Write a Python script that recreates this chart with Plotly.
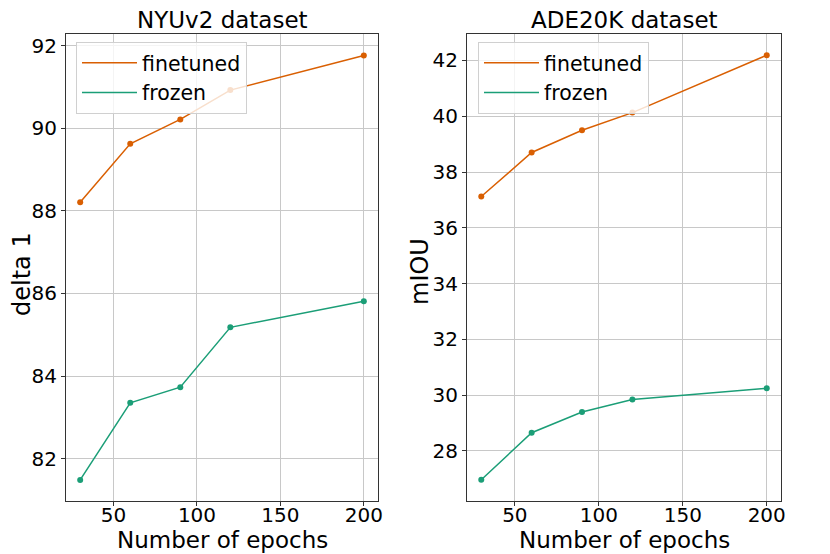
import plotly.graph_objects as go

epochs = [30, 60, 90, 120, 200]

nyu_finetuned = [88.21, 89.63, 90.22, 90.93, 91.77]
nyu_frozen = [81.48, 83.35, 83.73, 85.18, 85.81]

ade_finetuned = [37.12, 38.70, 39.50, 40.13, 42.19]
ade_frozen = [26.96, 28.65, 29.39, 29.84, 30.24]

orange = "#d95f02"
green = "#1b9e77"
font = "DejaVu Sans"

# page puts the plot 8px in from the corner, so lay out in a 822x546 figure
W, H, OFF = 822, 546, 8


def px(x):
    return (x - OFF) / W


def py(y):
    return 1 - (y - OFF) / H


fig = go.Figure()


def add_series(y, name, color, xa, ya, leg):
    # line goes in the legend, markers drawn separately so the legend shows only a line
    fig.add_trace(go.Scatter(x=epochs, y=y, name=name, mode="lines",
                             line=dict(color=color, width=1.5),
                             xaxis=xa, yaxis=ya, legend=leg))
    fig.add_trace(go.Scatter(x=epochs, y=y, name=name, mode="markers",
                             marker=dict(color=color, size=6), showlegend=False,
                             xaxis=xa, yaxis=ya))


add_series(nyu_finetuned, "finetuned", orange, "x", "y", "legend")
add_series(nyu_frozen, "frozen", green, "x", "y", "legend")
add_series(ade_finetuned, "finetuned", orange, "x2", "y2", "legend2")
add_series(ade_frozen, "frozen", green, "x2", "y2", "legend2")

ax = dict(showline=True, mirror=True, linecolor="#333", linewidth=1, automargin=False,
          showgrid=True, gridcolor="#c8c8c8", gridwidth=1, zeroline=False,
          ticks="outside", ticklen=4, tickcolor="#333",
          tickfont=dict(family=font, size=20, color="black"))
xax = dict(ax, range=[21.5, 208.5], tickvals=[50, 100, 150, 200], ticklabelstandoff=-8)

xdom1 = [px(66), px(378)]
xdom2 = [px(467), px(781)]
ydom = [py(501), py(34)]

leg = dict(xanchor="left", yanchor="top", itemwidth=55,
           bgcolor="rgba(255,255,255,0.8)", bordercolor="#d0d0d0", borderwidth=1,
           font=dict(family=font, size=20.5, color="black"))

fig.update_layout(
    template="none",
    width=W, height=H,
    margin=dict(l=0, r=0, t=0, b=0),
    paper_bgcolor="white", plot_bgcolor="white",
    xaxis=dict(xax, domain=xdom1, anchor="y"),
    yaxis=dict(ax, domain=ydom, range=[80.97, 92.29], tickvals=[82, 84, 86, 88, 90, 92], anchor="x"),
    xaxis2=dict(xax, domain=xdom2, anchor="y2"),
    yaxis2=dict(ax, domain=ydom, range=[26.2, 42.95], tickvals=[28, 30, 32, 34, 36, 38, 40, 42], anchor="x2"),
    legend=dict(leg, x=px(76), y=py(42)),
    legend2=dict(leg, x=px(478), y=py(42)),
)


def label(text, x, y, angle=0, size=23):
    fig.add_annotation(text=text, x=px(x), y=py(y), xref="paper", yref="paper",
                       xanchor="center", yanchor="middle",
                       showarrow=False, textangle=angle,
                       font=dict(family=font, size=size, color="black"))


label("NYUv2 dataset", 222, 20)
label("ADE20K dataset", 624, 20)
label("Number of epochs", 222, 540)
label("Number of epochs", 624, 540)
label("delta 1", 22, 274, -90, 24)
label("mIOU", 420, 272, -90, 24)

fig.write_html("out.html")
